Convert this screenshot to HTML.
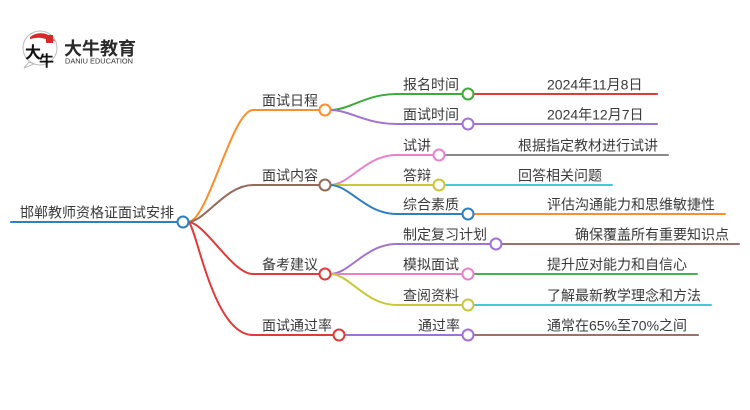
<!DOCTYPE html>
<html>
<head>
<meta charset="utf-8">
<style>
html,body{margin:0;padding:0;background:#fff;}
svg{display:block;}
text{font-family:"Liberation Sans","Noto Sans CJK SC",sans-serif;}
</style>
</head>
<body>
<svg width="750" height="410" viewBox="0 0 750 410" xmlns="http://www.w3.org/2000/svg">
<!-- logo -->
<g>
  <circle cx="40" cy="48" r="17" fill="#fff" stroke="#bbb" stroke-width="1"/>
  <path d="M29,62 L24,68 L34,64 Z" fill="#fff" stroke="#bbb" stroke-width="1"/>
  <path d="M30,37 A17,17 0 0 1 55,41 L48,40 Q40,36 30,39 Z" fill="#d42a2a"/>
  <rect x="46" y="35" width="7" height="8" fill="#d42a2a"/>
  <text x="25" y="58" font-size="16" font-weight="bold" fill="#111" style="font-family:'Noto Sans CJK SC',sans-serif">大</text>
  <text x="39" y="66" font-size="15" font-weight="bold" fill="#111" style="font-family:'Noto Sans CJK SC',sans-serif">牛</text>
  <text x="64" y="55" font-size="18" font-weight="bold" fill="#2a2a2a">大牛教育</text>
  <text x="65" y="63.5" font-size="7" fill="#333" textLength="68" lengthAdjust="spacingAndGlyphs">DANIU EDUCATION</text>
</g>

<g fill="none" stroke-width="2" stroke-linecap="round">
  <!-- root -->
  <line x1="11" y1="222" x2="178" y2="222" stroke="#2f7fc1"/>
  <!-- level 1 -->
  <path d="M188,222 C208,222 232,110 253,110 L320,110" stroke="#f7902d"/>
  <path d="M188,222 C205,222 225,185 253,185 L320,185" stroke="#936a5c"/>
  <path d="M188,222 C205,222 232,274 253,274 L320,274" stroke="#e03b3b"/>
  <path d="M188,222 C196,222 212,335 253,335 L334,335" stroke="#e03b3b"/>

  <!-- level 2: 面试日程 -->
  <path d="M330,110 C350,110 365,94 397,94 L462,94" stroke="#3daa3d"/>
  <path d="M330,110 C350,110 365,124 397,124 L462,124" stroke="#a173d1"/>
  <!-- 面试内容 -->
  <path d="M330,185 C350,185 365,155 397,155 L433,155" stroke="#e881cc"/>
  <path d="M330,185 L433,185" stroke="#c8c83c"/>
  <path d="M330,185 C350,185 365,214 397,214 L462,214" stroke="#2f7fc1"/>
  <!-- 备考建议 -->
  <path d="M330,274 C350,274 365,244 397,244 L490,244" stroke="#a173d1"/>
  <path d="M330,274 L462,274" stroke="#e881cc"/>
  <path d="M330,274 C350,274 365,305 397,305 L462,305" stroke="#c8c83c"/>
  <!-- 面试通过率 -->
  <path d="M344,335 L462,335" stroke="#a173d1"/>

  <!-- level 3 -->
  <line x1="473" y1="94" x2="657" y2="94" stroke="#e03b3b"/>
  <line x1="473" y1="124" x2="657" y2="124" stroke="#a173d1"/>
  <line x1="444" y1="155" x2="668" y2="155" stroke="#8a8a8a"/>
  <line x1="444" y1="185" x2="612" y2="185" stroke="#45c8d8"/>
  <line x1="473" y1="214" x2="725" y2="214" stroke="#f7902d"/>
  <line x1="501" y1="244" x2="739" y2="244" stroke="#9b7265"/>
  <line x1="473" y1="274" x2="697" y2="274" stroke="#4cb04c"/>
  <line x1="473" y1="305" x2="711" y2="305" stroke="#45c8d8"/>
  <line x1="473" y1="335" x2="698" y2="335" stroke="#9b7265"/>
</g>

<!-- circles -->
<g fill="#fff" stroke-width="2">
  <circle cx="183" cy="222" r="5.5" stroke="#2f7fc1"/>
  <circle cx="325" cy="110" r="5.5" stroke="#f7902d"/>
  <circle cx="325" cy="185" r="5.5" stroke="#936a5c"/>
  <circle cx="325" cy="274" r="5.5" stroke="#e03b3b"/>
  <circle cx="339" cy="335" r="5.5" stroke="#e03b3b"/>
  <circle cx="468" cy="94" r="5.5" stroke="#3daa3d"/>
  <circle cx="468" cy="124" r="5.5" stroke="#a173d1"/>
  <circle cx="439" cy="155" r="5.5" stroke="#e881cc"/>
  <circle cx="439" cy="185" r="5.5" stroke="#c8c83c"/>
  <circle cx="468" cy="214" r="5.5" stroke="#2f7fc1"/>
  <circle cx="496" cy="244" r="5.5" stroke="#a173d1"/>
  <circle cx="468" cy="274" r="5.5" stroke="#e881cc"/>
  <circle cx="468" cy="305" r="5.5" stroke="#c8c83c"/>
  <circle cx="468" cy="335" r="5.5" stroke="#a173d1"/>
</g>

<!-- labels -->
<g font-size="14" fill="#3a3a3a">
  <text x="20" y="217.5">邯郸教师资格证面试安排</text>
  <text x="262" y="105.5">面试日程</text>
  <text x="262" y="180.5">面试内容</text>
  <text x="262" y="269.5">备考建议</text>
  <text x="262" y="330.5">面试通过率</text>

  <text x="403" y="89.5">报名时间</text>
  <text x="403" y="119.5">面试时间</text>
  <text x="403" y="150.5">试讲</text>
  <text x="403" y="180.5">答辩</text>
  <text x="403" y="209.5">综合素质</text>
  <text x="403" y="239.5">制定复习计划</text>
  <text x="403" y="269.5">模拟面试</text>
  <text x="403" y="300.5">查阅资料</text>
  <text x="418" y="330.5">通过率</text>

  <text x="547" y="89.5">2024年11月8日</text>
  <text x="547" y="119.5">2024年12月7日</text>
  <text x="518" y="150.5">根据指定教材进行试讲</text>
  <text x="518" y="180.5">回答相关问题</text>
  <text x="547" y="209.5">评估沟通能力和思维敏捷性</text>
  <text x="575" y="239.5">确保覆盖所有重要知识点</text>
  <text x="547" y="269.5">提升应对能力和自信心</text>
  <text x="547" y="300.5">了解最新教学理念和方法</text>
  <text x="547" y="330.5">通常在65%至70%之间</text>
</g>
</svg>
</body>
</html>
